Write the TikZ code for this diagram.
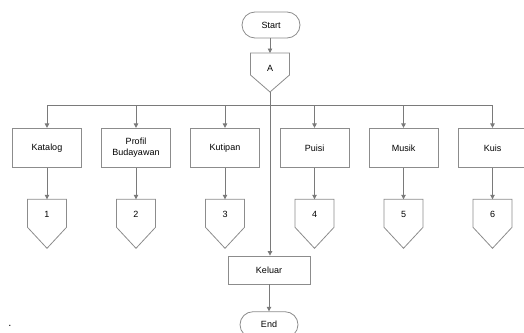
\documentclass[tikz,border=0pt]{standalone}
\usepackage{fontspec}
\setmainfont{Liberation Sans}
\usetikzlibrary{arrows.meta,calc,shapes.misc}
\definecolor{linegray}{HTML}{7A7A7A}
\definecolor{boxgray}{HTML}{8C8C8C}
\begin{document}
\begin{tikzpicture}[x=1pt,y=-1pt,
  line/.style={draw=linegray, line width=0.8pt},
  arr/.style={line, -{Triangle[width=4.5pt,length=4.5pt]}},
  txt/.style={font=\fontsize{9}{10.5}\selectfont, text=black, align=center, inner sep=0pt},
  box/.style={txt, draw=boxgray, line width=0.8pt, fill=white, minimum width=69pt, minimum height=39pt},
  term/.style={txt, draw=boxgray, line width=0.8pt, rounded rectangle, minimum width=58pt, minimum height=26pt},
  pent/.style={draw=boxgray, line width=0.8pt, fill=white}
]
\useasboundingbox (0,0) rectangle (524,332);

% Start
\node[term] (start) at (271,25) {Start};

% A connector
\draw[pent] (250.5,53) -- (289.5,53) -- (289.5,75) -- (270,92) -- (250.5,75) -- cycle;
\coordinate (Atop) at (270,53);
\coordinate (Atip) at (270,92);
\node[txt] (A) at (270,68) {A};
\draw[arr] (start.south -| Atop) -- (Atop);

% bus
\coordinate (bus) at (270,105);

% boxes
\node[box] (b1) at (47,147.8) {Katalog};
\node[box] (b2) at (136,147.8) {Profil\\Budayawan};
\node[box] (b3) at (225,147.8) {Kutipan};
\node[box] (b4) at (314.5,147.8) {Puisi};
\node[box] (b5) at (403.5,147.8) {Musik};
\node[box] (b6) at (492.5,147.8) {Kuis};

\draw[line] (bus -| b1) -- (bus -| b6);

\foreach \i/\x in {1/47,2/136,3/225,4/314.5,5/403.5,6/492.5}{
  \draw[arr] (bus -| b\i) -- (b\i.north);
  \draw[pent] (\x-19.5,199.3) -- (\x+19.5,199.3) -- (\x+19.5,227.3) -- (\x,248.3) -- (\x-19.5,227.3) -- cycle;
  \coordinate (c\i top) at (\x,199.3);
  \node[txt] (c\i) at (\x,214.5) {\i};
  \draw[arr] (b\i.south) -- (c\i top);
}

% Keluar and End
\node[box, minimum width=82pt, minimum height=28pt] (keluar) at (269,270) {Keluar};
\node[term] (end) at (269,324.7) {End};
\draw[arr] (Atip) -- (Atip |- keluar.north);
\draw[arr] (keluar.south) -- (end.north);

% stray dot
\node[txt, font=\fontsize{11}{12}\selectfont] (dot) at (10,326) {.};
\end{tikzpicture}
\end{document}
